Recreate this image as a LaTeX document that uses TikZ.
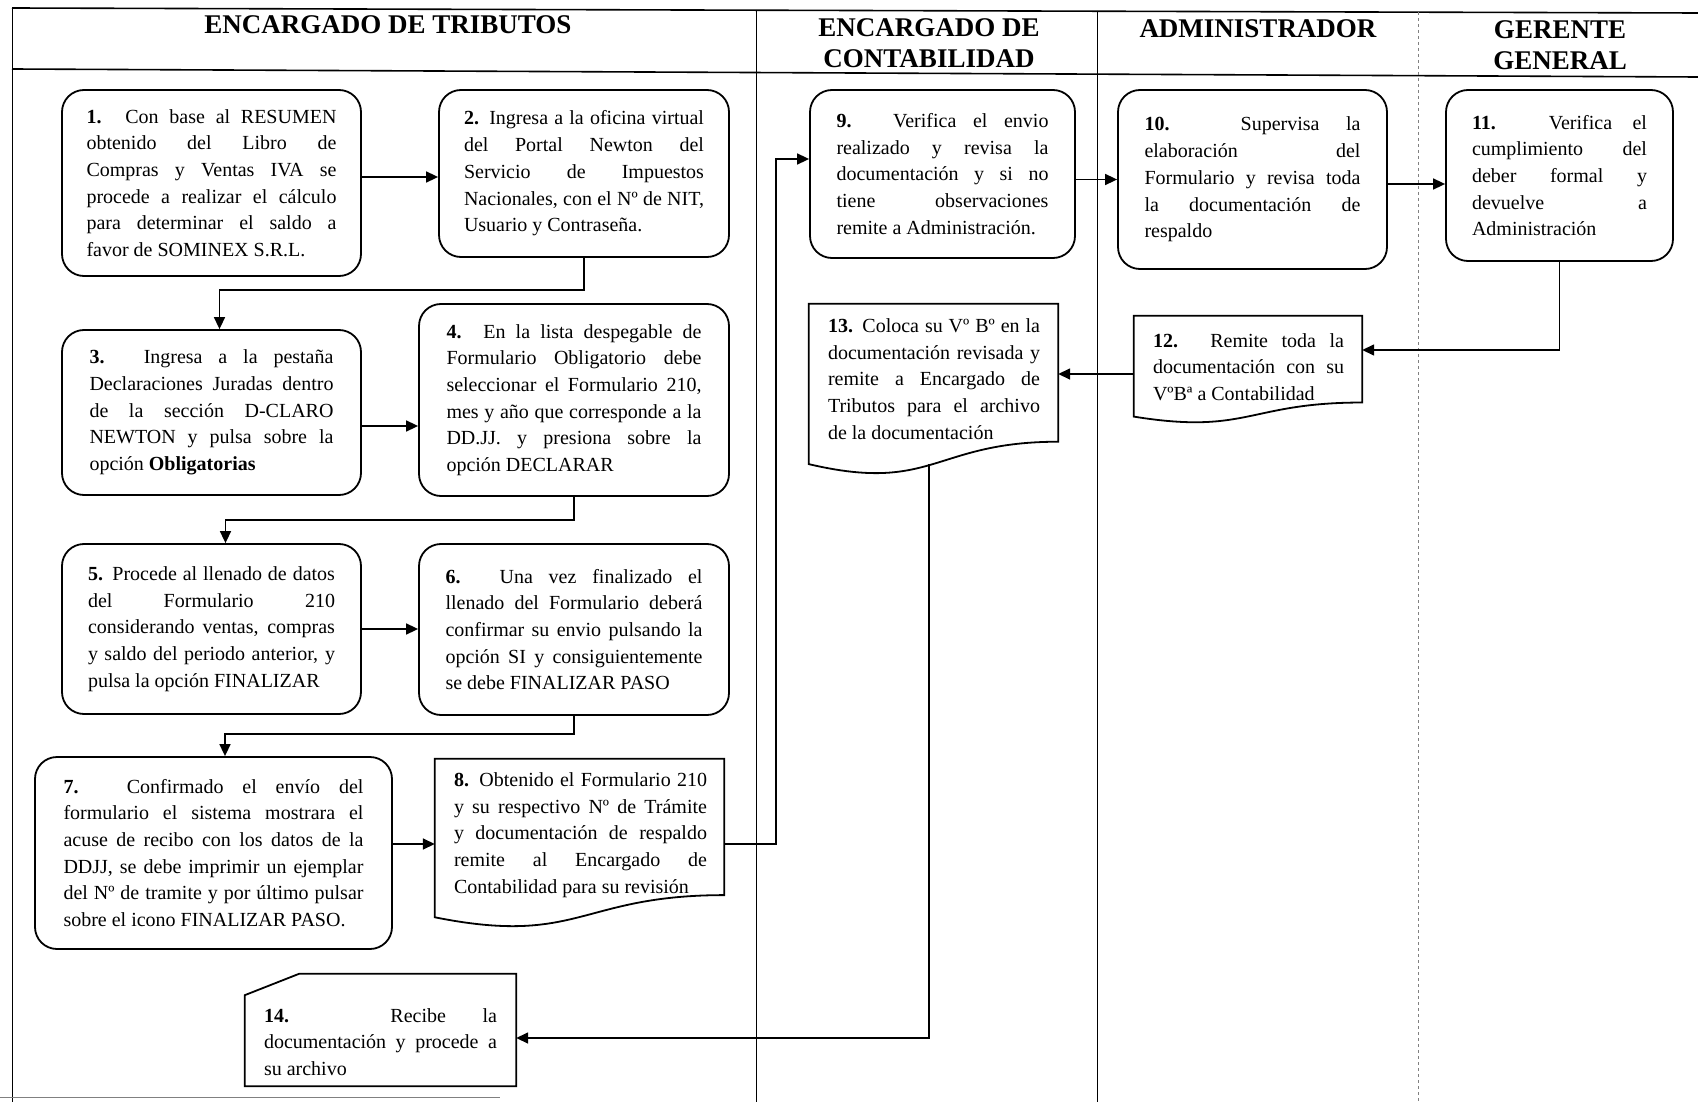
\documentclass[tikz,border=0pt]{standalone}
\usepackage{fontspec}
\setmainfont{Liberation Serif}
\usetikzlibrary{arrows.meta,calc}

\newcommand\flowtext{\fontsize{20}{26.7}\selectfont}
\newcommand\lanefont{\fontsize{27}{31.5}\selectfont\bfseries}

\begin{document}
\begin{tikzpicture}[x=1pt,y=-1pt,
  boxline/.style={line width=1.8pt},
  textsetup/.style={align=justify, font=\flowtext, inner sep=0pt,
    execute at begin node={\tolerance=10000\hyphenpenalty=10000\exhyphenpenalty=10000}},
  stepbox/.style={draw, boxline, rounded corners=22pt, textsetup},
  shapebox/.style={inner sep=0pt},
  conn/.style={line width=1.6pt, -{Triangle[length=12pt,width=11pt]}},
  frameline/.style={line width=1.6pt},
  lanesep/.style={line width=0.9pt},
  lanehead/.style={font=\lanefont, align=center, inner sep=0pt}
]
\useasboundingbox (0,0) rectangle (1698,1102);

% swimlane frame and headers
\draw[frameline] (12,8) -- (1698,13);
\draw[frameline] (12,69) -- (1698,77);
\draw[lanesep] (12,8) -- (12,1102);
\draw[lanesep] (756,10) -- (756,1102);
\draw[lanesep] (1097,11) -- (1097,1102);
\draw[lanesep, dashed, gray] (1418,12) -- (1418,1102);
\draw[gray, line width=0.8pt] (0,1097) -- (500,1097);

\node[lanehead] (h1) at (388,25) {ENCARGADO DE TRIBUTOS};
\node[lanehead] (h2) at (929,43) {ENCARGADO DE\\CONTABILIDAD};
\node[lanehead] (h3) at (1258,29) {ADMINISTRADOR};
\node[lanehead] (h4) at (1560,45) {GERENTE\\GENERAL};

% rounded process steps
\node[stepbox, minimum width=299, minimum height=186, text width=250] (b1) at (211.5,183)
 {\textbf{1.} Con base al RESUMEN\linebreak obtenido del Libro de\linebreak Compras y Ventas IVA se\linebreak procede a realizar el cálculo\linebreak para determinar el saldo a\linebreak favor de SOMINEX S.R.L.};
\node[stepbox, minimum width=290, minimum height=167, text width=240] (b2) at (584,173.5)
 {\textbf{2.} Ingresa a la oficina virtual\linebreak del Portal Newton del\linebreak Servicio de Impuestos\linebreak Nacionales, con el Nº de NIT,\linebreak Usuario y Contraseña.};
\node[stepbox, minimum width=299, minimum height=165, text width=244] (b3) at (211.5,412.5)
 {\textbf{3.} Ingresa a la pestaña\linebreak Declaraciones Juradas dentro\linebreak de la sección D-CLARO\linebreak NEWTON y pulsa sobre la\linebreak opción \textbf{Obligatorias}};
\node[stepbox, minimum width=310, minimum height=192, text width=255] (b4) at (574,400)
 {\textbf{4.} En la lista despegable de\linebreak Formulario Obligatorio debe\linebreak seleccionar el Formulario 210,\linebreak mes y año que corresponde a la\linebreak DD.JJ. y presiona sobre la\linebreak opción DECLARAR};
\node[stepbox, minimum width=299, minimum height=170, text width=247] (b5) at (211.5,629)
 {\parfillskip=0pt \textbf{5.} Procede al llenado de datos\linebreak del Formulario 210\linebreak considerando ventas, compras\linebreak y saldo del periodo anterior, y\linebreak pulsa la opción FINALIZAR};
\node[stepbox, minimum width=310, minimum height=171, text width=257] (b6) at (574,629.5)
 {\textbf{6.} Una vez finalizado el\linebreak llenado del Formulario deberá\linebreak confirmar su envio pulsando la\linebreak opción SI y consiguientemente\linebreak se debe FINALIZAR PASO};
\node[stepbox, minimum width=357, minimum height=192, text width=300] (b7) at (213.5,853)
 {\textbf{7.} Confirmado el envío del\linebreak formulario el sistema mostrara el\linebreak acuse de recibo con los datos de la\linebreak DDJJ, se debe imprimir un ejemplar\linebreak del Nº de tramite y por último pulsar\linebreak sobre el icono FINALIZAR PASO.};
\node[stepbox, minimum width=265, minimum height=168, text width=212] (b9) at (942.5,174)
 {\textbf{9.} Verifica el envio\linebreak realizado y revisa la\linebreak documentación y si no\linebreak tiene observaciones\linebreak remite a Administración.};
\node[stepbox, minimum width=269, minimum height=179, text width=216] (b10) at (1252.5,179.5)
 {\textbf{10.} Supervisa la\linebreak elaboración del\linebreak Formulario y revisa toda\linebreak la documentación de\linebreak respaldo};
\node[stepbox, minimum width=227, minimum height=171, text width=175] (b11) at (1559.5,175.5)
 {\textbf{11.} Verifica el\linebreak cumplimiento del\linebreak deber formal y\linebreak devuelve a\linebreak Administración};

% document-shaped steps: outline node plus text node
\node[shapebox, minimum width=289, minimum height=170] (b8) at (579.5,844) {};
\node[shapebox, minimum width=228, minimum height=108] (b12) at (1248,370) {};
\node[shapebox, minimum width=249, minimum height=172] (b13) at (933.5,390) {};
\node[shapebox, minimum width=271, minimum height=112] (b14) at (380.5,1030) {};

\foreach \d in {b8,b12,b13}{
  \draw[boxline] (\d.north west) -- (\d.north east)
    -- ($(\d.north east)!0.80!(\d.south east)$)
    .. controls ($(\d.north)!0.80!(\d.south)$) and ($(\d.north)!1.10!(\d.south)$)
    .. ($(\d.north west)!0.93!(\d.south west)$) -- cycle;
}
\draw[boxline] (b14.south west) -- ($(b14.north west)!0.19!(b14.south west)$)
  -- ($(b14.north west)!0.2!(b14.north east)$) -- (b14.north east)
  -- (b14.south east) -- cycle;

\node[textsetup, text width=253] (t8) at (580.5,835)
 {\textbf{8.} Obtenido el Formulario 210\linebreak y su respectivo Nº de Trámite\linebreak y documentación de respaldo\linebreak remite al Encargado de\linebreak Contabilidad para su revisión};
\node[textsetup, text width=191] (t12) at (1248.5,367)
 {\textbf{12.} Remite toda la\linebreak documentación con su\linebreak VºBª a Contabilidad};
\node[textsetup, text width=212] (t13) at (934,379)
 {\textbf{13.} Coloca su Vº Bº en la\linebreak documentación revisada y\linebreak remite a Encargado de\linebreak Tributos para el archivo\linebreak de la documentación};
\node[textsetup, text width=233] (t14) at (380.5,1042)
 {\textbf{14.} Recibe la\linebreak documentación y procede a\linebreak su archivo};

% flow connectors
\draw[conn] ([yshift=6pt]b1.east) -- ([yshift=6pt]b1.east -| b2.west);
\draw[conn] (b2.south) -- ++(0,32) -| ([xshift=8pt]b3.north);
\draw[conn] ([yshift=-13.5pt]b3.east) -- ([yshift=-13.5pt]b3.east -| b4.west);
\draw[conn] (b4.south) -- ++(0,23) -| ([xshift=14pt]b5.north);
\draw[conn] (b5.east) -- (b5.east -| b6.west);
\draw[conn] (b6.south) -- ++(0,18) -| ([xshift=11.5pt]b7.north);
\draw[conn] (b7.east |- b8.west) -- (b8.west);
\coordinate (k89) at (776,159);
\draw[conn] (b8.east) -| (k89) -- (k89 -| b9.west);
\draw[conn] (b9.east |- b10.west) -- (b10.west);
\draw[conn] ([yshift=-4.5pt]b10.east) -- ([yshift=-4.5pt]b10.east -| b11.west);
\draw[conn] (b11.south) |- ([yshift=20pt]b12.east);
\draw[conn] ([yshift=-4pt]b12.west) -- ([yshift=-4pt]b12.west -| b13.east);
\draw[conn] ([xshift=-4.5pt,yshift=12pt]b13.south) |- ([yshift=-8pt]b14.east);
\end{tikzpicture}
\end{document}
